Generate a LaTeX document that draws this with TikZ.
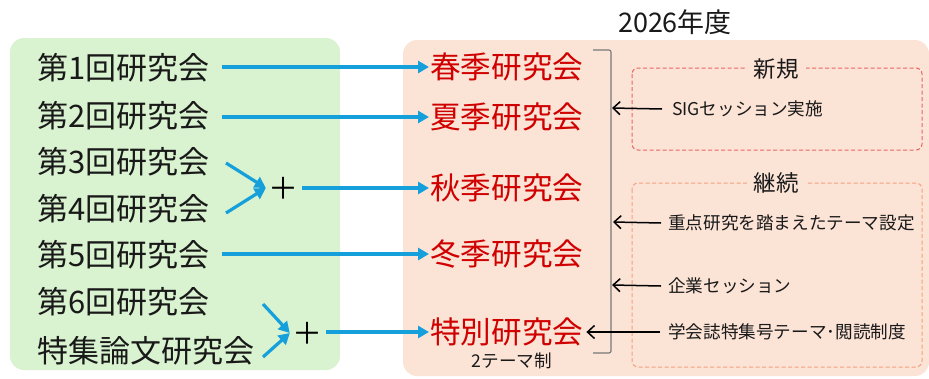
\documentclass[tikz,border=0pt]{standalone}
\usepackage{fontspec}
\setmainfont{Noto Sans CJK JP}
\usetikzlibrary{arrows.meta}
\definecolor{gfill}{RGB}{217,242,208}
\definecolor{pfill}{RGB}{251,227,214}
\definecolor{redtxt}{RGB}{208,0,0}
\definecolor{bluearr}{RGB}{22,160,219}
\definecolor{newdash}{RGB}{232,100,100}
\definecolor{contdash}{RGB}{244,160,125}
\definecolor{brgray}{RGB}{120,120,120}
\tikzset{
  lefttxt/.style={anchor=west,inner sep=0pt,font=\fontsize{31}{31}\selectfont,text=black!90},
  redbox/.style={anchor=west,inner sep=0pt,font=\fontsize{30.6}{30.6}\selectfont,text=redtxt},
  smalltxt/.style={anchor=west,inner sep=0pt,font=\fontsize{17.6}{17.6}\selectfont,text=black!90},
  plussign/.style={inner sep=0pt,font=\fontsize{30}{30}\selectfont},
  grouplabel/.style={fill=pfill,inner xsep=7pt,inner ysep=1pt,font=\fontsize{22.5}{22.5}\selectfont,text=black!90},
  bluearrow/.style={draw=bluearr,line width=3.2pt,-{Triangle[length=11pt,width=12pt]}},
  blackarrow/.style={draw=black,line width=1.5pt,-{Straight Barb[length=7pt,width=13pt]}},
}
\begin{document}
\begin{tikzpicture}[x=1pt,y=-1pt]
\useasboundingbox (0,0) rectangle (929,378);
\clip (0,0) rectangle (929,378);
% panels
\fill[gfill, rounded corners=14pt] (10,38) rectangle (340,370);
\fill[pfill, rounded corners=14pt] (403,40) rectangle (929,376);
% title
\node[inner sep=0pt,font=\fontsize{27}{27}\selectfont,text=black!90] (title) at (675,22) {2026年度};
% left texts
\node[lefttxt] (l1) at (37,68) {第1回研究会};
\node[lefttxt] (l2) at (37,116) {第2回研究会};
\node[lefttxt] (l3) at (37,162) {第3回研究会};
\node[lefttxt] (l4) at (37,209) {第4回研究会};
\node[lefttxt] (l5) at (37,255) {第5回研究会};
\node[lefttxt] (l6) at (37,302) {第6回研究会};
\node[lefttxt] (l7) at (37,351) {特集論文研究会};
% plus signs
\node[plussign] (p1) at (283,188) {＋};
\node[plussign] (p2) at (307,333) {＋};
% right red texts
\node[redbox] (r1) at (430,67) {春季研究会};
\node[redbox] (r2) at (430,117) {夏季研究会};
\node[redbox] (r3) at (430,188) {秋季研究会};
\node[redbox] (r4) at (430,254) {冬季研究会};
\node[redbox] (r5) at (430,332) {特別研究会};
\node[inner sep=0pt,font=\fontsize{17.6}{17.6}\selectfont,text=black!90] (two) at (512,361) {2テーマ制};
% blue arrows
\coordinate (a1) at ([xshift=12pt]l1.east |- r1.west);
\coordinate (a2) at ([xshift=12pt]l2.east |- r2.west);
\coordinate (a5) at ([xshift=12pt]l5.east |- r4.west);
\draw[bluearrow] (a1) -- ([xshift=-1pt]r1.west);
\draw[bluearrow] (a2) -- ([xshift=-1pt]r2.west);
\coordinate (s3) at (226,163);
\coordinate (s4) at (226,213);
\coordinate (s6) at (263,304);
\coordinate (s7) at (263,357);
\draw[bluearrow] (s3) -- ([xshift=-2pt]p1.west);
\draw[bluearrow] (s4) -- ([xshift=-2pt]p1.west);
\coordinate (pp1) at ([xshift=4pt]p1.east |- r3.west);
\draw[bluearrow] (pp1) -- ([xshift=-1pt]r3.west);
\draw[bluearrow] (a5) -- ([xshift=-1pt]r4.west);
\draw[bluearrow] (s6) -- ([xshift=-2pt]p2.west);
\draw[bluearrow] (s7) -- ([xshift=-2pt]p2.west);
\coordinate (pp2) at ([xshift=4pt]p2.east |- r5.west);
\draw[bluearrow] (pp2) -- ([xshift=-1pt]r5.west);
% bracket
\coordinate (btop) at (611,50);
\coordinate (bbot) at (611,353);
\draw[brgray, line width=1.1pt, rounded corners=2pt] (593,50) -- (btop) -- (bbot) -- (593,353);
% dashed group boxes
\draw[newdash, dash pattern=on 4pt off 2.5pt, line width=1pt, rounded corners=6pt] (632,68) rectangle (922,150);
\draw[contdash, dash pattern=on 4pt off 2.5pt, line width=1pt, rounded corners=6pt] (632,183) rectangle (922,367);
\node[grouplabel] (gnew) at (776,69) {新規};
\node[grouplabel] (gcont) at (776,183) {継続};
% small texts
\node[smalltxt] (t1) at (672,109) {SIGセッション実施};
\node[smalltxt] (t2) at (668,223) {重点研究を踏まえたテーマ設定};
\node[smalltxt] (t3) at (668,286) {企業セッション};
\node[smalltxt] (t4) at (668,332) {学会誌特集号テーマ･閲読制度};
% black arrows
\coordinate (b1) at (612,108);
\coordinate (b2) at (613,222);
\coordinate (b3) at (612,285);
\draw[blackarrow] ([xshift=-10pt]t1.west) -- (b1);
\draw[blackarrow] ([xshift=-7pt]t2.west) -- (b2);
\draw[blackarrow] ([xshift=-7pt]t3.west) -- (b3);
\draw[blackarrow] ([xshift=-8pt]t4.west) -- ([xshift=3pt]r5.east |- t4.west);
\end{tikzpicture}
\end{document}
